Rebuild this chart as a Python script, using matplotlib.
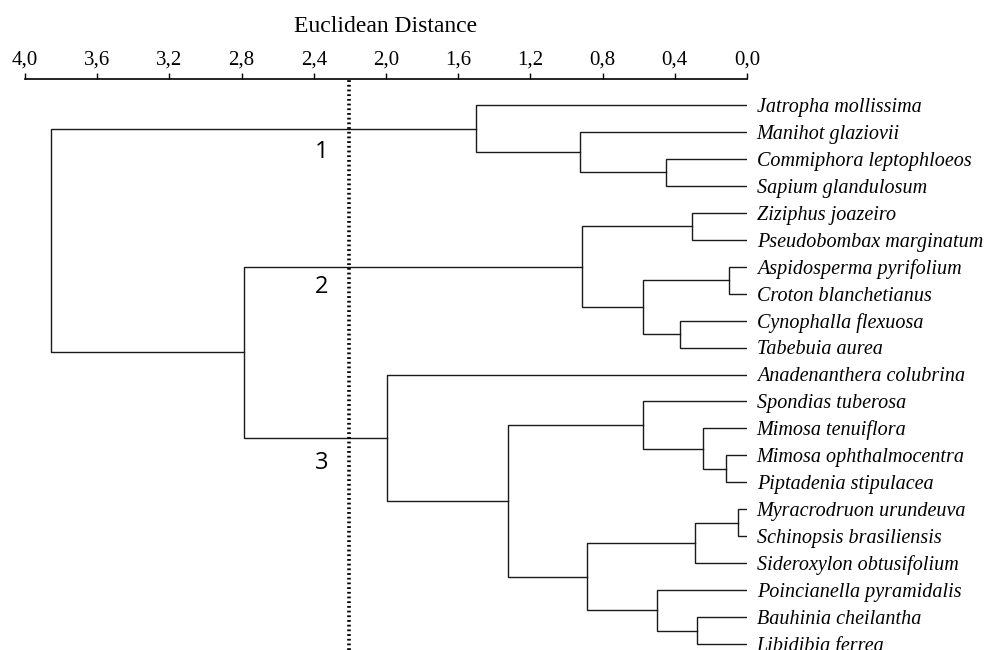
import numpy as np
import matplotlib.pyplot as plt
from matplotlib.ticker import FuncFormatter

# leaves, top to bottom
species = ["Jatropha mollissima", "Manihot glaziovii", "Commiphora leptophloeos",
           "Sapium glandulosum", "Ziziphus joazeiro", "Pseudobombax marginatum",
           "Aspidosperma pyrifolium", "Croton blanchetianus", "Cynophalla flexuosa",
           "Tabebuia aurea", "Anadenanthera colubrina", "Spondias tuberosa",
           "Mimosa tenuiflora", "Mimosa ophthalmocentra", "Piptadenia stipulacea",
           "Myracrodruon urundeuva", "Schinopsis brasiliensis", "Sideroxylon obtusifolium",
           "Poincianella pyramidalis", "Bauhinia cheilantha", "Libidibia ferrea"]

# merges (scipy linkage style): new node id = 21 + row index
merge_a = [2, 1, 0, 4, 6, 8, 25, 24, 13, 12, 11, 15, 32, 19, 18, 33, 31, 10, 28, 23]
merge_b = [3, 21, 22, 5, 7, 9, 26, 27, 14, 29, 30, 16, 17, 20, 34, 35, 36, 37, 38, 39]
merge_h = [0.45, 0.925, 1.503, 0.306, 0.10, 0.371, 0.574, 0.916, 0.118, 0.245,
           0.574, 0.048, 0.288, 0.275, 0.497, 0.885, 1.322, 1.996, 2.787, 3.857]

cut_height = 2.205
groups = ["1", "2", "3"]
group_y = [1.73, 6.74, 13.3]

ticks = [4.0, 3.6, 3.2, 2.8, 2.4, 2.0, 1.6, 1.2, 0.8, 0.4, 0.0]

fig = plt.figure(figsize=(9.86, 6.5), dpi=100)
ax = fig.add_axes([25 / 986, 0, 722 / 986, 1 - 79 / 650])

n = len(species)
ypos = {i: float(i) for i in range(n)}
hpos = {i: 0.0 for i in range(n)}
lc = "#1a1a1a"
for k, (a, b, h) in enumerate(zip(merge_a, merge_b, merge_h)):
    ya, yb = ypos[a], ypos[b]
    ax.plot([hpos[a], h, h, hpos[b]], [ya, ya, yb, yb], color=lc, lw=1.0,
            solid_joinstyle="miter")
    ypos[n + k] = (ya + yb) / 2
    hpos[n + k] = h

for i, name in enumerate(species):
    ax.annotate(name, (0, i), xytext=(7, -5.0), textcoords="offset points",
                va="baseline", ha="left", fontsize=14.5, style="italic",
                family="Liberation Serif", annotation_clip=False)

for g, gy in zip(groups, group_y):
    ax.text(2.355, gy, g, fontsize=17, family="Open Sans", ha="center", va="center")

ax.axvline(cut_height, color="black", lw=2.6, ls=(0, (0.5, 0.8)))

step = 26.95
ax.set_xlim(4.0, 0.0)
ax.set_ylim((650 - 105) / step, -26 / step)
ax.xaxis.tick_top()
ax.xaxis.set_label_position("top")
ax.set_xticks(ticks)
ax.xaxis.set_major_formatter(FuncFormatter(lambda v, p: f"{v:.1f}".replace(".", ",")))
ax.tick_params(axis="x", direction="out", length=4.5, width=1.0, pad=2,
               labelsize=15, labelfontfamily="Liberation Serif")
ax.set_yticks([])
for s in ["left", "right", "bottom"]:
    ax.spines[s].set_visible(False)
ax.spines["top"].set_linewidth(1.2)
ax.set_xlabel("Euclidean Distance", fontsize=17, family="Liberation Serif", labelpad=14)

fig.savefig("out.png", dpi=100)
